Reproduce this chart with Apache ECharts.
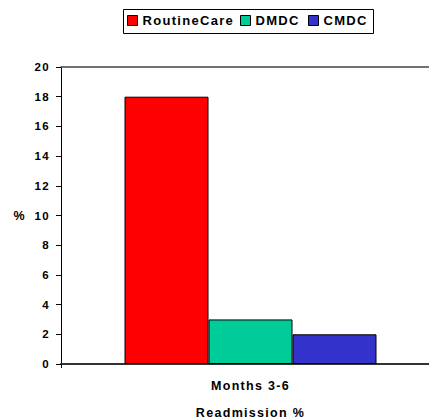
<!DOCTYPE html>
<html>
<head>
<meta charset="utf-8">
<script src="https://cdn.jsdelivr.net/npm/echarts@6/dist/echarts.min.js"></script>
<style>
  html, body { margin: 0; padding: 0; background: #fff; overflow: hidden; }
  #chart { width: 429px; height: 420px; }
  /* wide tracking on every label, as in spreadsheet-style charts */
  #chart svg text { letter-spacing: 1.3px; }
</style>
</head>
<body>
<div id="chart"></div>
<script>
// Readmission rates by care model, months 3-6
var categories = ['Months 3-6'];
var seriesNames = ['RoutineCare', 'DMDC', 'CMDC'];
var routineCare = [18];
var dmdc = [3];
var cmdc = [2];
var yTicks = { min: 0, max: 20, step: 2 };

var FONT = '"Liberation Sans", Arial, sans-serif';
var colors = ['#FF0000', '#00CC99', '#3333CC'];
var values = [routineCare, dmdc, cmdc];
// left edge of each legend entry inside the shared legend frame
var legendLefts = [127, 240, 308];

var chart = echarts.init(document.getElementById('chart'), null, { renderer: 'svg' });

var series = seriesNames.map(function (name, i) {
  return {
    name: name,
    type: 'bar',
    data: values[i],
    barWidth: 84,
    barGap: '0%',
    itemStyle: { color: colors[i], borderColor: '#000', borderWidth: 1 }
  };
});

var boldText = function (size) {
  return { fontFamily: FONT, fontWeight: 'bold', fontSize: size, color: '#000' };
};

// one legend per entry so the tracked text never runs into the next swatch
var legends = seriesNames.map(function (name, i) {
  return {
    data: [name],
    left: legendLefts[i],
    top: 14,
    padding: 0,
    itemWidth: 10,
    itemHeight: 10,
    icon: 'rect',
    selectedMode: false,
    itemStyle: { borderColor: '#000', borderWidth: 1 },
    textStyle: boldText(13),
    z: 5
  };
});

chart.setOption({
  animation: false,
  color: colors,
  textStyle: { fontFamily: FONT },
  graphic: [{
    type: 'rect',
    left: 123,
    top: 9,
    shape: { width: 250, height: 24 },
    style: { fill: '#fff', stroke: '#000', lineWidth: 1 },
    z: 1
  }],
  legend: legends,
  grid: { left: 61, top: 67, width: 379, height: 297, containLabel: false, outerBoundsMode: 'none' },
  xAxis: [
    {
      type: 'category',
      data: categories,
      position: 'bottom',
      axisLine: { show: true, lineStyle: { color: '#333', width: 2 } },
      axisTick: { show: true, length: 4, lineStyle: { color: '#000', width: 1 } },
      axisLabel: Object.assign({ margin: 15 }, boldText(12.5)),
      name: 'Readmission %',
      nameLocation: 'middle',
      nameGap: 42,
      nameTextStyle: boldText(12.5)
    },
    {
      type: 'category',
      data: categories,
      position: 'top',
      axisLine: { show: true, lineStyle: { color: '#444', width: 1.5 } },
      axisTick: { show: false },
      axisLabel: { show: false }
    }
  ],
  yAxis: {
    type: 'value',
    min: yTicks.min,
    max: yTicks.max,
    interval: yTicks.step,
    axisLine: { show: true, lineStyle: { color: '#000', width: 1 } },
    axisTick: { show: true, length: 5, inside: false, lineStyle: { color: '#000' } },
    splitLine: { show: false },
    axisLabel: Object.assign({ margin: 11 }, boldText(11.5)),
    name: '%',
    nameLocation: 'middle',
    nameRotate: 0,
    nameGap: 35,
    nameTextStyle: boldText(12.5)
  },
  series: series
});
</script>
</body>
</html>
